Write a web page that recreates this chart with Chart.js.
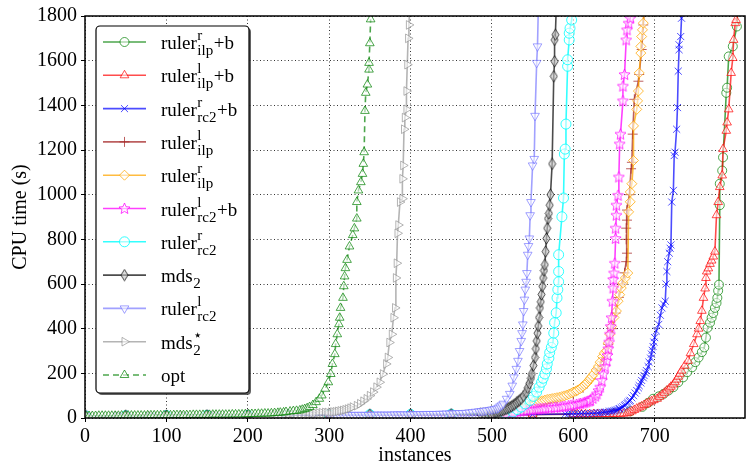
<!DOCTYPE html>
<html>
<head>
<meta charset="utf-8">
<script src="https://cdn.jsdelivr.net/npm/chart.js@4.4.0/dist/chart.umd.min.js"></script>
<style>
  html, body { margin: 0; padding: 0; background: #fff; }
  canvas { display: block; }
</style>
</head>
<body>
<canvas id="cactus" width="751" height="470"></canvas>
<script>
// cactus plot: [instances solved, CPU time (s)]
const rulerRIlpB = [[1,9],[50,10],[100,11],[150,12],[200,12],[250,13],[300,13],[350,14],[400,14],[450,15],[500,15],[550,16],[600,17],[650,20],[670,30],[685,50],[692,68],[698,86],[705,97],[711,108],[717,123],[723,138],[729,160],[735,182],[740,205],[746,227],[750,250],[754,271],[758,295],[761,316],[763,360],[765,404],[768,427],[770,449],[772,470],[774,493],[776,515],[777,538],[778,570],[779,597],[780,953],[780,1049],[783,1108],[784,1167],[788,1456],[789,1479],[791,1619],[796,1664],[801,1753],[802,1830]]
const rulerLIlpB = [[1,9],[50,10],[100,11],[150,12],[200,12],[250,13],[300,13],[350,14],[400,14],[450,15],[500,15],[550,16],[600,17],[605,17],[610,17],[615,17],[620,17],[625,18],[630,18],[635,18],[640,18],[645,18],[650,19],[654,19],[658,19],[662,20],[666,21],[669,25],[672,30],[675,36],[678,42],[681,47],[684,52],[687,58],[690,64],[693,70],[696,75],[699,80],[703,86],[706,95],[709,104],[712,113],[715,123],[718,132],[720,140],[723,150],[725,160],[727,172],[729,185],[731,198],[733,212],[737,234],[741,256],[744,290],[748,331],[752,375],[754,400],[756,434],[758,480],[760,538],[762,580],[763,627],[764,656],[766,670],[768,690],[770,705],[772,723],[774,745],[776,908],[778,967],[780,1034],[783,1086],[784,1204],[788,1286],[789,1323],[791,1382],[794,1545],[796,1612],[797,1693],[799,1768],[800,1782],[801,1830]]
const rulerRRc2B = [[1,9],[50,10],[100,11],[150,12],[200,12],[250,13],[300,13],[350,14],[400,14],[450,15],[500,15],[550,16],[590,18],[594,18],[598,19],[602,19],[606,19],[610,20],[614,20],[618,20],[622,21],[626,22],[630,23],[633,24],[636,25],[639,26],[641,27],[644,29],[646,30],[648,31],[650,33],[652,35],[654,37],[656,40],[657,42],[659,46],[661,50],[663,55],[664,60],[666,65],[667,70],[669,75],[670,79],[672,90],[674,100],[676,112],[678,123],[680,135],[681,145],[683,157],[684,168],[686,180],[687,190],[689,201],[690,212],[692,230],[693,250],[695,268],[696,286],[697,303],[698,320],[699,340],[700,360],[702,390],[705,419],[707,460],[709,493],[711,510],[713,523],[714,600],[715,656],[716,700],[718,738],[719,760],[720,775],[721,967],[723,1019],[724,1175],[725,1190],[727,1293],[728,1390],[729,1553],[730,1649],[730,1671],[732,1708],[733,1790],[734,1830]]
const rulerLIlp = [[1,9],[100,11],[200,12],[300,13],[400,15],[500,19],[520,24],[540,36],[560,55],[580,80],[600,105],[612,135],[622,175],[630,220],[637,270],[643,330],[648,400],[652,470],[656,540],[660,600],[663,650],[665,700],[666,738],[665,800],[665,850],[666,886],[666,931],[669,1000],[671,1116],[672,1145],[673,1271],[675,1427],[680,1508],[681,1538],[684,1650],[686,1760],[687,1830]]
const rulerRIlp = [[1,9],[50,10],[100,11],[150,12],[200,12],[250,13],[300,14],[350,15],[400,16],[450,18],[500,21],[516,25],[519,27],[522,29],[525,31],[528,33],[531,35],[534,38],[537,41],[540,45],[543,50],[547,56],[550,60],[553,65],[556,70],[559,74],[562,77],[565,80],[568,83],[571,85],[574,87],[577,89],[580,91],[583,93],[586,96],[589,99],[592,103],[595,107],[598,112],[600,116],[603,120],[605,124],[608,130],[610,136],[612,142],[614,148],[616,155],[618,163],[620,172],[621,178],[623,187],[625,197],[628,215],[631,232],[633,250],[636,275],[638,290],[641,301],[643,335],[645,375],[647,410],[650,450],[653,479],[655,523],[657,552],[659,582],[661,605],[664,627],[667,649],[668,923],[670,968],[670,1012],[672,1049],[674,1153],[674,1308],[678,1382],[679,1420],[680,1464],[681,1545],[683,1634],[683,1664],[684,1708],[685,1738],[686,1768],[687,1830]]
const rulerLRc2B = [[1,9],[50,10],[100,11],[150,12],[200,12],[250,13],[300,13],[350,14],[400,15],[450,16],[500,18],[516,22],[519,23],[522,25],[525,26],[528,27],[531,28],[535,30],[539,32],[543,34],[547,36],[550,37],[554,39],[557,40],[560,41],[563,42],[566,44],[570,45],[573,46],[577,47],[580,48],[584,49],[587,51],[590,53],[594,55],[597,57],[600,59],[604,61],[607,63],[609,65],[612,67],[614,70],[616,72],[618,75],[620,77],[621,79],[624,88],[627,98],[629,108],[631,123],[633,138],[635,168],[637,197],[639,230],[641,256],[642,280],[643,310],[644,340],[645,375],[646,410],[647,449],[648,523],[649,582],[649,620],[650,649],[651,693],[652,804],[652,850],[653,908],[653,953],[655,997],[656,1079],[657,1227],[658,1271],[661,1420],[661,1486],[663,1538],[665,1693],[666,1738],[668,1768],[670,1790],[671,1830]]
const rulerRRc2 = [[1,9],[50,10],[100,11],[150,12],[200,12],[250,13],[300,14],[350,15],[400,16],[450,17],[500,19],[516,22],[526,27],[531,38],[536,49],[541,63],[547,79],[551,97],[555,116],[558,138],[561,160],[563,178],[565,197],[567,220],[568,242],[570,268],[571,293],[573,316],[575,338],[576,380],[577,427],[579,471],[580,538],[581,575],[582,610],[582,656],[582,731],[586,901],[588,985],[589,1182],[590,1204],[591,1316],[593,1575],[593,1604],[595,1693],[595,1723],[596,1745],[598,1782],[599,1830]]
const mds2 = [[1,9],[50,10],[100,11],[150,12],[200,12],[250,13],[300,14],[350,15],[400,16],[450,17],[486,18],[490,19],[494,20],[498,21],[501,23],[504,25],[506,26],[508,28],[510,30],[512,33],[514,35],[516,38],[518,41],[520,44],[522,48],[524,52],[526,57],[528,62],[530,68],[532,74],[534,80],[536,86],[539,98],[542,115],[544,135],[546,155],[548,178],[549,197],[551,235],[553,271],[554,310],[555,345],[556,380],[557,412],[558,450],[559,493],[560,520],[561,553],[562,590],[563,627],[564,660],[565,686],[566,745],[567,804],[568,850],[569,893],[570,916],[571,953],[572,1000],[574,1138],[576,1530],[577,1597],[577,1693],[578,1716],[579,1830]]
const rulerLRc2 = [[1,9],[40,10],[80,10],[120,11],[160,11],[200,12],[240,12],[280,13],[300,13],[304,13],[308,13],[312,13],[316,13],[320,13],[324,14],[328,14],[332,14],[336,14],[340,14],[344,14],[348,14],[352,14],[356,15],[360,15],[364,15],[368,15],[372,15],[376,15],[380,16],[384,16],[388,16],[392,16],[396,16],[400,16],[404,17],[408,17],[412,17],[416,17],[420,18],[424,18],[428,18],[432,18],[436,19],[440,19],[444,20],[448,20],[452,21],[456,21],[460,22],[464,22],[468,23],[472,25],[476,26],[480,28],[484,30],[487,31],[490,32],[493,34],[497,36],[500,38],[503,40],[506,42],[508,46],[510,52],[512,57],[514,64],[518,86],[522,108],[525,145],[527,182],[530,220],[532,256],[534,300],[536,345],[537,380],[538,419],[539,479],[540,530],[541,575],[542,610],[543,649],[544,731],[545,770],[546,804],[547,908],[548,967],[550,1131],[552,1160],[553,1353],[555,1590],[556,1664],[557,1830]]
const mds2Star = [[1,9],[40,10],[80,11],[120,12],[160,12],[200,13],[230,14],[235,14],[240,15],[245,15],[250,16],[255,16],[260,17],[265,18],[270,19],[275,20],[279,21],[283,22],[287,23],[291,24],[295,25],[298,25],[302,26],[305,27],[308,28],[311,30],[314,32],[317,34],[320,37],[323,40],[326,44],[329,49],[334,55],[338,64],[342,75],[346,86],[350,100],[354,116],[358,138],[362,160],[366,197],[370,242],[372,271],[374,338],[377,375],[379,449],[381,493],[382,627],[383,693],[384,827],[385,864],[387,967],[390,982],[390,1071],[391,1131],[392,1293],[393,1345],[395,1382],[395,1464],[396,1582],[397,1700],[398,1760],[399,1830]]
const opt = [[1,9],[5,9],[9,9],[13,9],[17,10],[21,10],[25,10],[29,10],[33,10],[37,10],[41,10],[45,11],[49,11],[53,11],[57,11],[61,11],[65,11],[69,11],[73,11],[77,12],[81,12],[85,12],[89,12],[93,12],[97,12],[101,12],[105,12],[109,13],[113,13],[117,13],[121,13],[125,13],[129,13],[133,14],[137,14],[141,14],[145,14],[149,14],[153,14],[157,15],[161,15],[165,15],[169,15],[173,15],[177,15],[181,16],[185,16],[189,16],[193,16],[197,17],[201,17],[205,18],[209,18],[213,19],[217,19],[221,20],[225,20],[229,21],[233,22],[237,23],[240,24],[244,25],[247,27],[252,29],[256,31],[260,32],[264,34],[267,37],[270,40],[273,44],[276,49],[280,58],[284,71],[288,86],[291,101],[295,131],[299,160],[302,197],[304,242],[307,286],[308,331],[310,375],[312,420],[313,449],[314,493],[317,538],[318,590],[319,634],[320,671],[322,708],[325,768],[329,819],[331,849],[334,893],[334,967],[336,1019],[339,1056],[341,1093],[342,1138],[343,1190],[344,1375],[345,1456],[347,1493],[349,1560],[349,1590],[350,1678],[351,1785]]

const seriesData = [rulerRIlpB, rulerLIlpB, rulerRRc2B, rulerLIlp, rulerRIlp, rulerLRc2B, rulerRRc2, mds2, rulerLRc2, mds2Star, opt]

// legend text pieces: base, superscript, subscript, tail
const legendBase = ['ruler', 'ruler', 'ruler', 'ruler', 'ruler', 'ruler', 'ruler', 'mds', 'ruler', 'mds', 'opt']
const legendSup = ['r', 'l', 'r', 'l', 'r', 'l', 'r', '', 'l', '\u22c6', '']
const legendSub = ['ilp', 'ilp', 'rc2', 'ilp', 'ilp', 'rc2', 'rc2', '2', 'rc2', '2', '']
const legendTail = ['+b', '+b', '+b', '', '', '+b', '', '', '', '', '']

const xTickMax = 800
const yTickMax = 1800

const lineColors = ['rgba(0,128,0,0.7)', 'rgba(255,0,0,0.7)', 'rgba(0,0,255,0.7)', 'rgba(165,42,42,0.75)',
  'rgba(255,165,0,0.75)', 'rgba(255,0,255,0.75)', 'rgba(0,255,255,0.8)', 'rgba(0,0,0,0.7)',
  'rgba(110,110,255,0.65)', 'rgba(140,140,140,0.65)', 'rgba(0,128,0,0.7)']

function starCanvas(color) {
  const c = document.createElement('canvas')
  c.width = 13; c.height = 13
  const g = c.getContext('2d')
  g.beginPath()
  for (let k = 0; k < 10; k++) {
    const r = k % 2 ? 2.6 : 5.8
    const a = -Math.PI / 2 + k * Math.PI / 5
    g.lineTo(6.5 + r * Math.cos(a), 6.8 + r * Math.sin(a))
  }
  g.closePath()
  g.fillStyle = 'rgba(255,255,255,0.55)'
  g.fill()
  g.strokeStyle = color
  g.lineWidth = 1
  g.stroke()
  return c
}

function thinDiamondCanvas(color) {
  const c = document.createElement('canvas')
  c.width = 9; c.height = 13
  const g = c.getContext('2d')
  g.beginPath()
  g.moveTo(4.5, 0.8); g.lineTo(8, 6.5); g.lineTo(4.5, 12.2); g.lineTo(1, 6.5)
  g.closePath()
  g.fillStyle = 'rgba(200,200,200,0.6)'
  g.fill()
  g.strokeStyle = color
  g.lineWidth = 1
  g.stroke()
  return c
}

const markers = [
  { style: 'circle', radius: 4.5, rotation: 0 },
  { style: 'triangle', radius: 5, rotation: 0 },
  { style: 'crossRot', radius: 5, rotation: 0 },
  { style: 'cross', radius: 5, rotation: 0 },
  { style: 'rectRot', radius: 5, rotation: 0 },
  { style: starCanvas(lineColors[5]), radius: 5, rotation: 0 },
  { style: 'circle', radius: 5, rotation: 0 },
  { style: thinDiamondCanvas(lineColors[7]), radius: 5, rotation: 0 },
  { style: 'triangle', radius: 5, rotation: 180 },
  { style: 'triangle', radius: 5, rotation: 90 },
  { style: 'triangle', radius: 5, rotation: 0 }
]

const datasets = seriesData.map((pts, i) => ({
  label: legendBase[i] + legendSup[i] + legendSub[i] + legendTail[i],
  data: pts.map(p => ({ x: p[0], y: p[1] })),
  showLine: true,
  borderColor: lineColors[i],
  borderWidth: 1.6,
  borderDash: i === 10 ? [6, 4] : [],
  pointStyle: markers[i].style,
  pointRadius: markers[i].radius,
  pointRotation: markers[i].rotation,
  pointBorderColor: lineColors[i],
  pointBackgroundColor: 'rgba(255,255,255,0.55)',
  pointBorderWidth: 1,
  order: seriesData.length - i
}))

const font = { family: '"Liberation Serif", "DejaVu Serif", serif', size: 20 }

const framePlugin = {
  id: 'frame',
  afterDatasetsDraw(chart) {
    const { ctx, chartArea: a } = chart
    ctx.save()
    ctx.strokeStyle = '#000'
    ctx.lineWidth = 1.5
    ctx.strokeRect(a.left, a.top, a.right - a.left, a.bottom - a.top)
    ctx.restore()
  }
}

const legendPlugin = {
  id: 'texLegend',
  afterDraw(chart) {
    const { ctx, chartArea: a } = chart
    const bx = a.left + 11, by = a.top + 10, bw = 153, bh = 367
    ctx.save()
    ctx.fillStyle = 'rgba(60,60,60,0.8)'
    ctx.beginPath(); ctx.roundRect(bx + 2, by + 2, bw, bh, 4); ctx.fill()
    ctx.fillStyle = '#fff'
    ctx.strokeStyle = '#000'
    ctx.lineWidth = 1.2
    ctx.beginPath(); ctx.roundRect(bx, by, bw, bh, 4); ctx.fill(); ctx.stroke()

    const big = '19px "Liberation Serif", serif'
    const small = '15px "Liberation Serif", serif'
    datasets.forEach((ds, i) => {
      const ry = by + 16 + i * 33.3
      ctx.save()
      ctx.strokeStyle = ds.borderColor
      ctx.lineWidth = 1.6
      ctx.setLineDash(ds.borderDash)
      ctx.beginPath(); ctx.moveTo(bx + 7, ry); ctx.lineTo(bx + 50, ry); ctx.stroke()
      ctx.setLineDash([])
      ctx.strokeStyle = ds.pointBorderColor
      ctx.fillStyle = ds.pointBackgroundColor
      ctx.lineWidth = 1
      Chart.helpers.drawPoint(ctx, { pointStyle: ds.pointStyle, radius: ds.pointRadius, rotation: ds.pointRotation, borderWidth: 1 }, bx + 28.5, ry)
      ctx.restore()

      ctx.fillStyle = '#000'
      ctx.textBaseline = 'alphabetic'
      const base = ry + 7
      let tx = bx + 65
      ctx.font = big
      ctx.fillText(legendBase[i], tx, base)
      tx += ctx.measureText(legendBase[i]).width
      ctx.font = small
      const w1 = legendSup[i] ? ctx.measureText(legendSup[i]).width : 0
      const w2 = legendSub[i] ? ctx.measureText(legendSub[i]).width : 0
      if (legendSup[i]) ctx.fillText(legendSup[i], tx + 0.5, base - 9)
      if (legendSub[i]) ctx.fillText(legendSub[i], tx + 0.5, base + 6)
      tx += Math.max(w1, w2) + (w1 || w2 ? 1 : 0)
      ctx.font = big
      if (legendTail[i]) ctx.fillText(legendTail[i], tx, base)
    })
    ctx.restore()
  }
}

new Chart(document.getElementById('cactus'), {
  type: 'scatter',
  data: { datasets },
  options: {
    responsive: false,
    animation: false,
    devicePixelRatio: 1,
    layout: { padding: { top: 13, right: 6, left: 0, bottom: 0 } },
    plugins: { legend: { display: false }, tooltip: { enabled: false } },
    scales: {
      x: {
        type: 'linear', min: 0, max: 811,
        afterBuildTicks: s => { s.ticks = s.ticks.filter(t => t.value % 100 === 0 && t.value <= xTickMax) },
        afterFit: s => { s.height = 52 },
        ticks: { stepSize: 100, autoSkip: false, maxRotation: 0, font, color: '#000', padding: 3, callback: v => String(v) },
        grid: { color: '#000', lineWidth: 0.8, drawTicks: true, tickLength: 4, tickColor: '#000', tickWidth: 1, tickBorderDash: [] },
        border: { display: false, dash: [1, 2.5] },
        title: { display: true, text: 'instances', font, color: '#000', padding: { top: 0, bottom: 2 } }
      },
      y: {
        type: 'linear', min: 0, max: yTickMax,
        afterFit: s => { s.width = 85 },
        ticks: { stepSize: 200, autoSkip: false, font, color: '#000', padding: 4, callback: v => String(v) },
        grid: { color: '#000', lineWidth: 0.8, drawTicks: true, tickLength: 4, tickColor: '#000', tickWidth: 1, tickBorderDash: [] },
        border: { display: false, dash: [1, 2.5] },
        title: { display: true, text: 'CPU time (s)', font, color: '#000', padding: { top: 9, bottom: 0 } }
      }
    }
  },
  plugins: [framePlugin, legendPlugin]
})
</script>
</body>
</html>
